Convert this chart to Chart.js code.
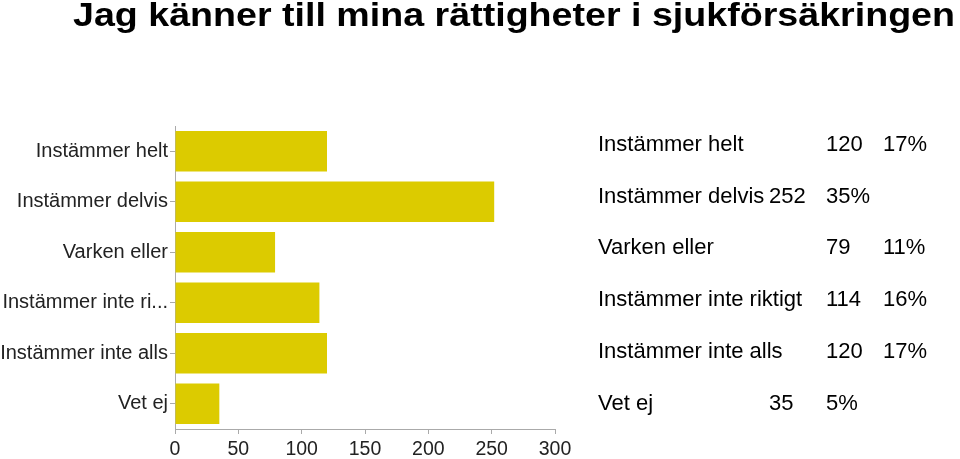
<!DOCTYPE html>
<html>
<head>
<meta charset="utf-8">
<script src="https://cdn.jsdelivr.net/npm/chart.js@4"></script>
<style>
  html, body { margin: 0; padding: 0; background: #fff; }
  #wrap { position: relative; width: 960px; height: 459px; overflow: hidden; }
  #title { position: absolute; left: 73px; top: -2px; font-family: "Liberation Sans", Arial, sans-serif; font-weight: bold; font-size: 33px; line-height: 33px; color: #000; white-space: nowrap; transform-origin: 0 0; }
  #c { position: absolute; left: 0; top: 0; }
  .cell { position: absolute; font-family: "Liberation Sans", Arial, sans-serif; font-size: 22px; line-height: 22px; color: #000; white-space: nowrap; }
</style>
</head>
<body>
<div id="wrap">
  <canvas id="c" width="960" height="459"></canvas>
  <div id="title">Jag känner till mina rättigheter i sjukförsäkringen</div>
</div>
<script>
// ---- data ----
const categories = ['Instämmer helt', 'Instämmer delvis', 'Varken eller', 'Instämmer inte riktigt', 'Instämmer inte alls', 'Vet ej'];
const tickLabels = ['Instämmer helt', 'Instämmer delvis', 'Varken eller', 'Instämmer inte ri...', 'Instämmer inte alls', 'Vet ej'];
const counts = [120, 252, 79, 114, 120, 35];
const percents = ['17%', '35%', '11%', '16%', '17%', '5%'];
const tabsAfterLabel = [2, 1, 2, 1, 1, 3];
const xTicks = [0, 50, 100, 150, 200, 250, 300];

// ---- title width ----
const title = document.getElementById('title');
const tw = title.getBoundingClientRect().width;
title.style.transform = 'scaleX(' + (882 / tw) + ')';

// ---- chart ----
const ctx = document.getElementById('c');
new Chart(ctx, {
  type: 'bar',
  data: {
    labels: tickLabels,
    datasets: [{
      data: counts,
      backgroundColor: '#dccb00',
      borderWidth: 0,
      categoryPercentage: 0.8,
      barPercentage: 1.0
    }]
  },
  options: {
    indexAxis: 'y',
    responsive: false,
    animation: false,
    devicePixelRatio: 1,
    layout: { padding: { top: 126, right: 405, left: 0, bottom: 0 } },
    plugins: { legend: { display: false }, tooltip: { enabled: false }, title: { display: false } },
    scales: {
      x: {
        min: 0, max: 300,
        afterBuildTicks: (s) => { s.ticks = xTicks.map(v => ({ value: v })); },
        afterFit: (s) => { s.height = 30; },
        grid: { drawOnChartArea: false, drawTicks: true, tickLength: 5, color: '#aaa' },
        border: { color: '#aaa', width: 1 },
        ticks: { color: '#222', padding: 4, font: { family: '"Liberation Sans", Arial, sans-serif', size: 19.5 } }
      },
      y: {
        afterFit: (s) => { s.width = 175; },
        grid: { offset: false, drawOnChartArea: false, drawTicks: true, tickLength: 5, color: '#aaa' },
        border: { color: '#aaa', width: 1 },
        ticks: { color: '#222', padding: 2, autoSkip: false, font: { family: '"Liberation Sans", Arial, sans-serif', size: 20 } }
      }
    }
  }
});

// ---- right-hand table (tab-stop layout) ----
const wrap = document.getElementById('wrap');
const mc = document.createElement('canvas').getContext('2d');
mc.font = '22px "Liberation Sans", Arial, sans-serif';
const originX = 598, tabW = 57, firstBaseline = 151.7, rowStep = 51.7;
function nextStop(x) { return originX + Math.ceil((x - originX + 0.5) / tabW) * tabW; }
categories.forEach((lab, i) => {
  const parts = [lab, String(counts[i]), percents[i]];
  const gaps = [tabsAfterLabel[i], 1];
  let x = originX;
  const baseline = firstBaseline + i * rowStep;
  parts.forEach((p, j) => {
    const el = document.createElement('div');
    el.className = 'cell';
    el.textContent = p;
    el.style.left = x + 'px';
    el.style.top = (baseline - 0.905 * 22 + ((1.117 * 22) - 22) / 2) + 'px';
    wrap.appendChild(el);
    x += mc.measureText(p).width;
    if (j < gaps.length) { for (let g = 0; g < gaps[j]; g++) x = nextStop(x); }
  });
});
</script>
</body>
</html>
